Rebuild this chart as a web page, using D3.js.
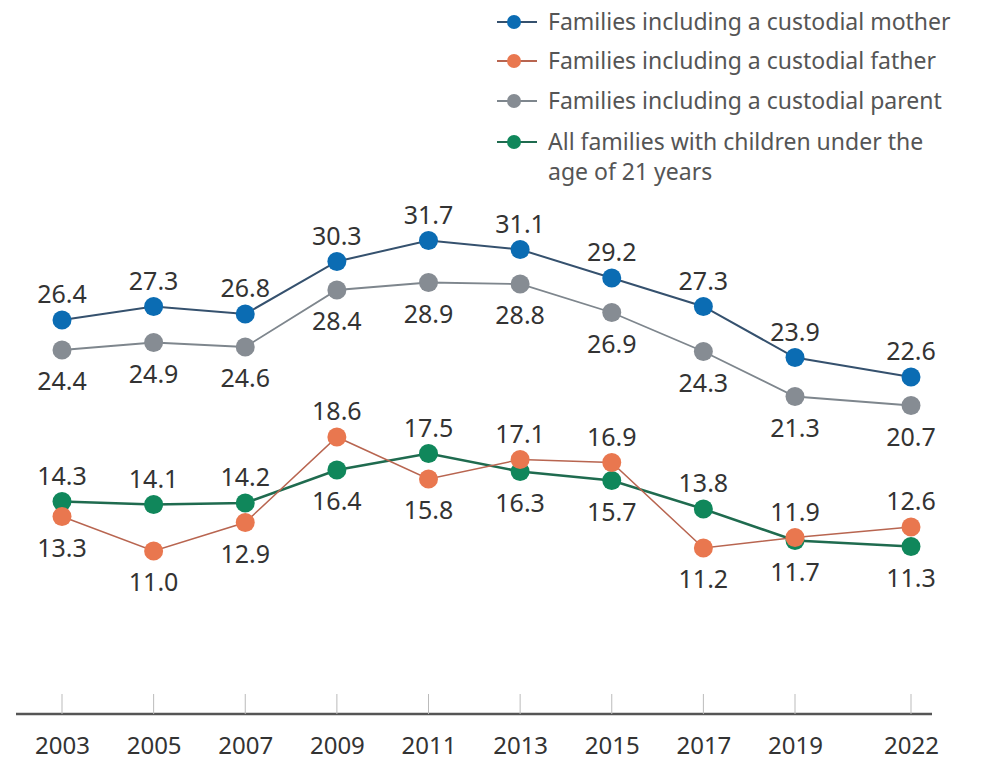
<!DOCTYPE html>
<html>
<head>
<meta charset="utf-8">
<script src="https://cdn.jsdelivr.net/npm/d3@7"></script>
<style>
  body { margin: 0; background: #fff; }
  text { font-family: "Noto Sans", sans-serif; }
</style>
</head>
<body>
<svg id="chart" width="983" height="760"></svg>
<script>
// survey years and the four series (percent)
var years = [2003, 2005, 2007, 2009, 2011, 2013, 2015, 2017, 2019, 2022]
var mother = [26.4, 27.3, 26.8, 30.3, 31.7, 31.1, 29.2, 27.3, 23.9, 22.6]
var father = [13.3, 11.0, 12.9, 18.6, 15.8, 17.1, 16.9, 11.2, 11.9, 12.6]
var parent = [24.4, 24.9, 24.6, 28.4, 28.9, 28.8, 26.9, 24.3, 21.3, 20.7]
var allFam = [14.3, 14.1, 14.2, 16.4, 17.5, 16.3, 15.7, 13.8, 11.7, 11.3]
// label above (1) or below (0) the point
var fatherUp = [0, 0, 0, 1, 0, 1, 1, 0, 1, 1]
var allUp = [1, 1, 1, 0, 1, 0, 0, 1, 0, 0]

var legendLabels = [
  "Families including a custodial mother",
  "Families including a custodial father",
  "Families including a custodial parent",
  "All families with children under the",
  "age of 21 years"
]

var svg = d3.select("#chart")

// the last step (2019-2022) is drawn a bit wider than the 2 year steps
var x = d3.scaleLinear().domain([2003, 2019, 2022]).range([62, 795, 911])
var y = d3.scaleLinear().domain([0, 31.7]).range([716, 240.5])

// axis
svg.append("line")
  .attr("x1", 16).attr("x2", 932)
  .attr("y1", 714).attr("y2", 714)
  .attr("stroke", "#555").attr("stroke-width", 2.5)
var xAxis = d3.axisBottom(x).tickValues(years).tickFormat(d3.format("d")).tickSize(0)
var gx = svg.append("g").attr("transform", "translate(0,714)").call(xAxis)
gx.select(".domain").remove()
gx.selectAll("text")
  .attr("dy", 0).attr("y", 40)
  .attr("font-size", 24).attr("fill", "#333")
  .style("font-family", "'Noto Sans', sans-serif")
svg.selectAll(".tickMark")
  .data(years)
  .enter()
  .append("line")
  .attr("class", "tickMark")
  .attr("x1", function(d) { return x(d) }).attr("x2", function(d) { return x(d) })
  .attr("y1", 694).attr("y2", 714)
  .attr("stroke", "#bbb").attr("stroke-width", 1)

var series = [
  {vals: allFam, dot: "#10875b", line: "#1f6b4f", lw: 2.5, up: allUp},
  {vals: father, dot: "#e9774f", line: "#b86550", lw: 1.5, up: fatherUp},
  {vals: parent, dot: "#868c93", line: "#7e868d", lw: 1.8, up: [0,0,0,0,0,0,0,0,0,0]},
  {vals: mother, dot: "#0b6cb3", line: "#35516e", lw: 2, up: [1,1,1,1,1,1,1,1,1,1]}
]

var line = d3.line()
  .x(function(d, i) { return x(years[i]) })
  .y(function(d) { return y(d) })

series.forEach(function(s) {
  svg.append("path")
    .datum(s.vals)
    .attr("d", line)
    .attr("fill", "none")
    .attr("stroke", s.line)
    .attr("stroke-width", s.lw)
})
series.forEach(function(s) {
  svg.selectAll(null)
    .data(s.vals)
    .enter()
    .append("circle")
    .attr("cx", function(d, i) { return x(years[i]) })
    .attr("cy", function(d) { return y(d) })
    .attr("r", 9.5)
    .attr("fill", s.dot)
  svg.selectAll(null)
    .data(s.vals)
    .enter()
    .append("text")
    .attr("x", function(d, i) { return x(years[i]) })
    .attr("y", function(d, i) { return s.up[i] ? y(d) - 17 : y(d) + 40 })
    .attr("text-anchor", "middle")
    .attr("font-size", 25)
    .attr("fill", "#333")
    .text(function(d) { return d.toFixed(1) })
})

// legend
var legendColors = [
  ["#0b6cb3", "#35516e"],
  ["#e9774f", "#b86550"],
  ["#868c93", "#7e868d"],
  ["#10875b", "#1f6b4f"]
]
var legendY = [22, 61, 101, 142]
legendColors.forEach(function(c, i) {
  svg.append("line")
    .attr("x1", 497).attr("x2", 537)
    .attr("y1", legendY[i]).attr("y2", legendY[i])
    .attr("stroke", c[1]).attr("stroke-width", 2)
  svg.append("circle")
    .attr("cx", 514).attr("cy", legendY[i]).attr("r", 7)
    .attr("fill", c[0])
})
svg.selectAll(".legendText")
  .data(legendLabels)
  .enter()
  .append("text")
  .attr("class", "legendText")
  .attr("x", 548)
  .attr("y", function(d, i) { return (i < 4 ? legendY[i] : 172) + 8 })
  .attr("font-size", 23)
  .attr("fill", "#555")
  .text(function(d) { return d })
</script>
</body>
</html>
